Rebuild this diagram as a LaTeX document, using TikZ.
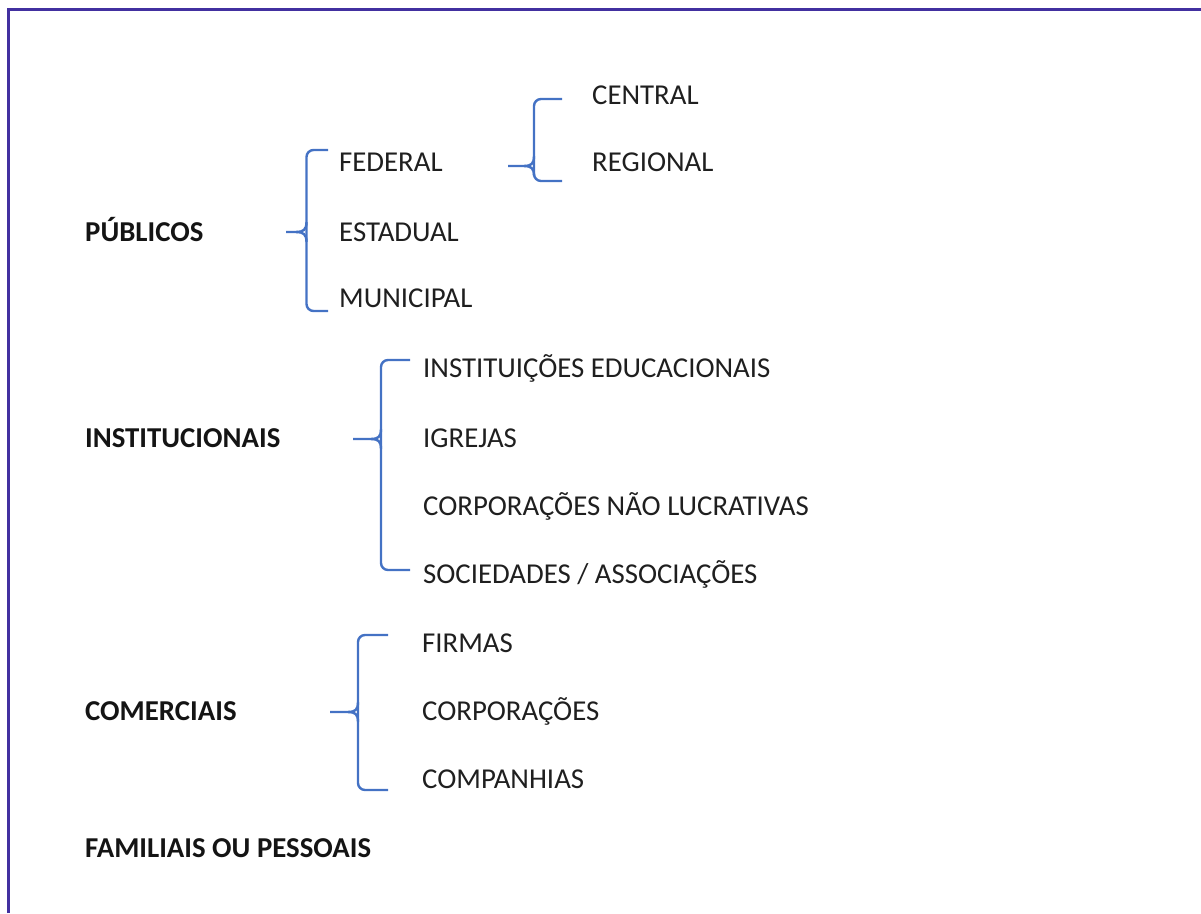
\documentclass[tikz,border=0pt]{standalone}
\usepackage{fontspec}
\setmainfont{Carlito}
\definecolor{framecol}{RGB}{66,48,160}
\definecolor{bracecol}{RGB}{68,114,196}
\begin{document}
\begin{tikzpicture}[x=1pt,y=-1pt,
 lbl/.style={anchor=base west, inner sep=0pt, font=\fontsize{28.8}{30}\selectfont, text=black!88},
 head/.style={anchor=base west, inner sep=0pt, font=\fontsize{28.8}{30}\selectfont\bfseries, text=black!92},
 bracearm/.style={draw=bracecol, line width=2.4pt, rounded corners=7pt},
 bracetip/.style={draw=bracecol, line width=2.4pt}]
\useasboundingbox (0,0) rectangle (1201,913);
% frame
\draw[framecol, line width=3.5pt] (8.5,913) -- (8.5,9.5) -- (1201,9.5);

% headings
\node[head] (pub) at (85,241) {PÚBLICOS};
\node[head] (inst) at (85,447) {INSTITUCIONAIS};
\node[head] (com) at (85,720) {COMERCIAIS};
\node[head] (fam) at (85,857) {FAMILIAIS OU PESSOAIS};

% publicos children
\node[lbl] (fed) at (339,171) {FEDERAL};
\node[lbl] (est) at (339,241) {ESTADUAL};
\node[lbl] (mun) at (339,307) {MUNICIPAL};
\node[lbl] (cen) at (592,104) {CENTRAL};
\node[lbl] (reg) at (592,171) {REGIONAL};

% institucionais children
\node[lbl] (edu) at (423,377) {INSTITUIÇÕES EDUCACIONAIS};
\node[lbl] (igr) at (423,447) {IGREJAS};
\node[lbl] (cnl) at (423,515) {CORPORAÇÕES NÃO LUCRATIVAS};
\node[lbl] (soc) at (423,583) {SOCIEDADES / ASSOCIAÇÕES};

% comerciais children
\node[lbl] (fir) at (422,652) {FIRMAS};
\node[lbl] (cor) at (422,720) {CORPORAÇÕES};
\node[lbl] (cia) at (422,788) {COMPANHIAS};

% brace 1: publicos
\coordinate (b1t) at (328,150);
\coordinate (b1b) at (328,311);
\coordinate (b1p) at (286,232);
\draw[bracearm] (b1t) -- (306.5,150) -- (306.5,311) -- (b1b);
\draw[bracetip] (b1p) -- (296,232) .. controls (303,232) and (306.5,230) .. (306.5,222);
\draw[bracetip] (296,232) .. controls (303,232) and (306.5,234) .. (306.5,242);

% brace 2: federal
\coordinate (b2t) at (562,99);
\coordinate (b2b) at (562,181);
\coordinate (b2p) at (508,166);
\draw[bracearm] (b2t) -- (534,99) -- (534,181) -- (b2b);
\draw[bracetip] (b2p) -- (524,166) .. controls (531,166) and (534,164) .. (534,156);
\draw[bracetip] (524,166) .. controls (531,166) and (534,168) .. (534,176);

% brace 3: institucionais
\coordinate (b3t) at (410,360);
\coordinate (b3b) at (410,570);
\coordinate (b3p) at (353,439);
\draw[bracearm] (b3t) -- (381,360) -- (381,570) -- (b3b);
\draw[bracetip] (b3p) -- (371,439) .. controls (378,439) and (381,437) .. (381,429);
\draw[bracetip] (371,439) .. controls (378,439) and (381,441) .. (381,449);

% brace 4: comerciais
\coordinate (b4t) at (388,635);
\coordinate (b4b) at (388,790);
\coordinate (b4p) at (330,712);
\draw[bracearm] (b4t) -- (358,635) -- (358,790) -- (b4b);
\draw[bracetip] (b4p) -- (348,712) .. controls (355,712) and (358,710) .. (358,702);
\draw[bracetip] (348,712) .. controls (355,712) and (358,714) .. (358,722);
\end{tikzpicture}
\end{document}
